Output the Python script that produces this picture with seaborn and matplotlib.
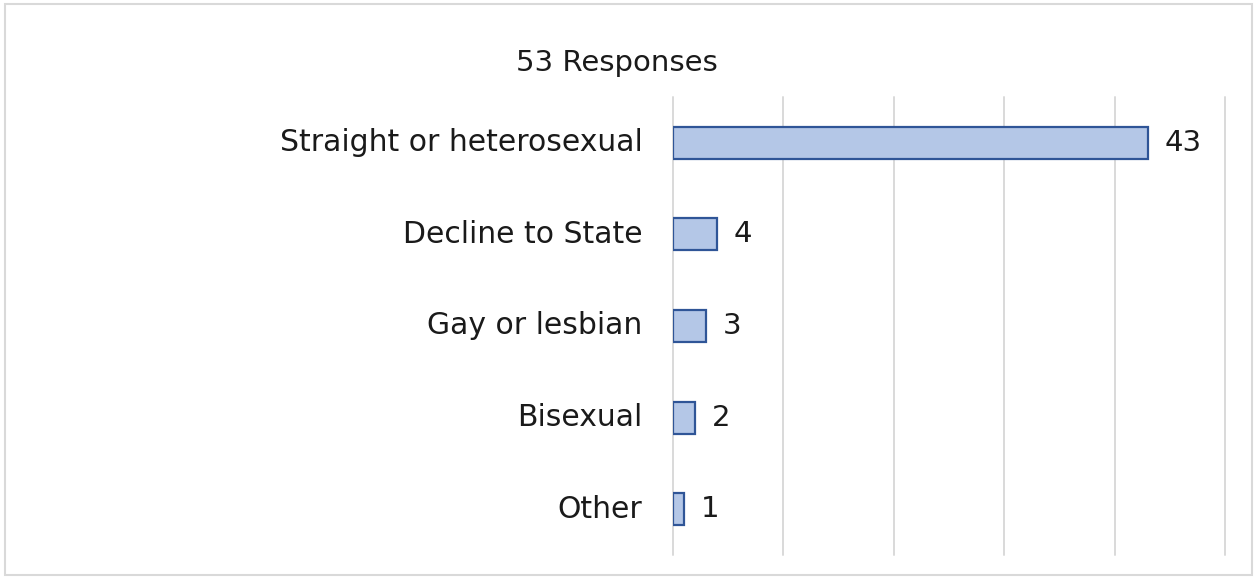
import matplotlib
matplotlib.use('Agg')
import matplotlib.pyplot as plt
import seaborn as sns
import pandas as pd
from matplotlib.patches import Rectangle

# 응답 데이터
categories = ['Straight or heterosexual', 'Decline to State', 'Gay or lesbian', 'Bisexual', 'Other']
counts = [43, 4, 3, 2, 1]
title = '53 Responses'

df = pd.DataFrame({'category': categories, 'count': counts})

sns.set_style('white')
plt.rcParams['font.family'] = ['DejaVu Sans']

fig = plt.figure(figsize=(12.54, 5.78), dpi=100)
ax = fig.add_axes([0.5367, 0.0398, 0.4402, 0.7924])

sns.barplot(data=df, x='count', y='category', orient='h', ax=ax,
            color='#B4C7E7', edgecolor='#2F5597', linewidth=1.6,
            width=0.35, saturation=1)

ax.set_xlim(0, 50)
ax.set_xticks(range(0, 51, 10))
ax.xaxis.grid(True, color='#D9D9D9', lw=1.4)
for gl in ax.get_xgridlines():
    gl.set_clip_on(False)
ax.set_axisbelow(True)
ax.tick_params(axis='x', length=0, labelbottom=False)
ax.tick_params(axis='y', length=0, labelsize=21.5, pad=22, colors='#1a1a1a')
for lbl in ax.get_yticklabels():
    lbl.set_va('center')
for s in ax.spines.values():
    s.set_visible(False)
ax.set_xlabel('')
ax.set_ylabel('')

# 막대 끝에 값 표시
for i, v in enumerate(counts):
    ax.annotate(str(v), xy=(v, i), xytext=(12, 0), textcoords='offset points',
                va='center', ha='left', fontsize=21, color='#1a1a1a')

fig.text(617 / 1254, 1 - 63 / 578, title, ha='center', va='center',
         fontsize=21, color='#1a1a1a')

# 바깥 테두리
fig.patches.append(Rectangle((5 / 1254, 3 / 578), 1247 / 1254, 571 / 578,
                             transform=fig.transFigure, fill=False,
                             edgecolor='#D9D9D9', lw=1.5))

fig.savefig('out.png', dpi=100)
